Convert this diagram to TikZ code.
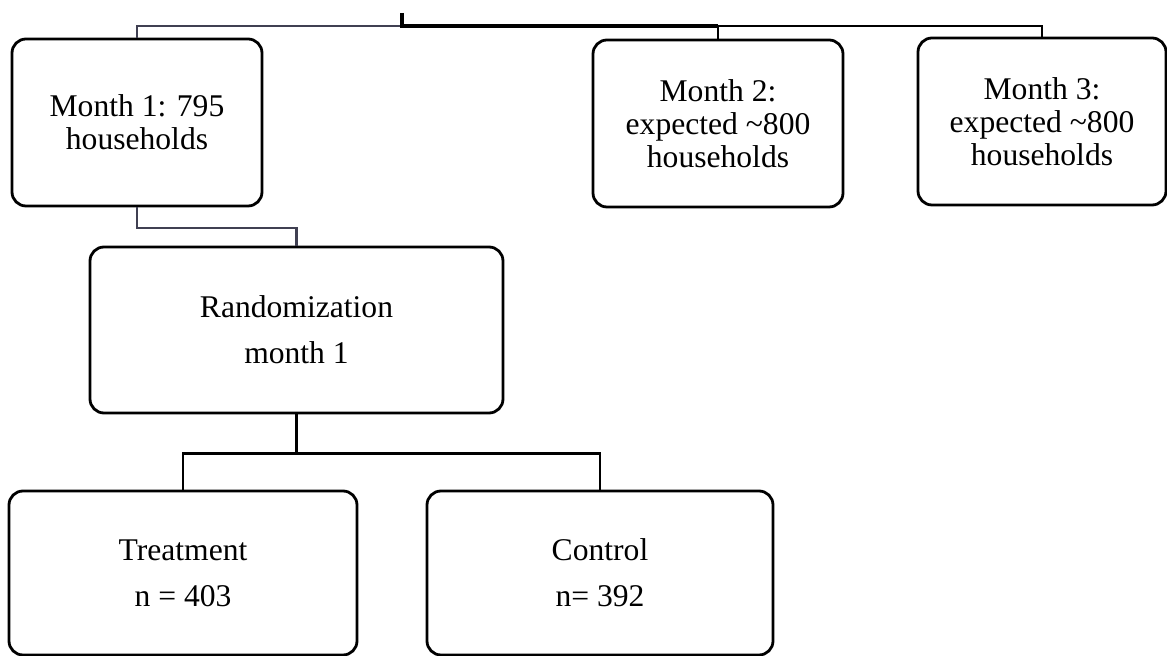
\documentclass[tikz,border=0pt]{standalone}
\usepackage{fontspec}
\setmainfont{Liberation Serif}
\definecolor{linkgray}{RGB}{64,64,82}

\begin{document}
\begin{tikzpicture}[
    x=0.5pt, y=-0.5pt,
    every node/.style={font=\fontsize{15.8}{16.5}\selectfont},
    box/.style={
        draw,
        line width=1.4pt,
        rounded corners=7pt,
        align=center,
        inner sep=0pt,
        minimum width=125pt,
        minimum height=83.5pt
    },
    link/.style={line width=1.2pt},
    graylink/.style={line width=1.1pt, draw=linkgray},
    mainlink/.style={line width=1.7pt}
]
    \useasboundingbox (0,0) rectangle (1167,656);

    % Months
    \node[box] (month1) at (137,122.5) {Month 1: 795\\households};
    \node[box] (month2) at (718,123.5) {Month 2:\\expected \textasciitilde800\\households};
    \node[box, minimum width=124pt] (month3) at (1042,121.5) {Month 3:\\expected \textasciitilde800\\households};

    % Randomization
    \node[
        box,
        minimum width=206.5pt,
        minimum height=83pt
    ] (rand) at (296.5,330) {Randomization\\[6.5pt]month 1};

    % Arms
    \node[
        box,
        minimum width=174pt,
        minimum height=82pt
    ] (treat) at (183,573) {Treatment\\[6.5pt]n = 403};

    \node[
        box,
        minimum width=173pt,
        minimum height=82pt
    ] (control) at (600,573) {Control\\[6.5pt]n= 392};

    % Top bar
    \coordinate (root) at (402,13);
    \coordinate (bar) at (402,26);

    \draw[graylink] (bar) -| (month1.north);
    \draw[link] (bar) -| (month2.north);
    \draw[link] (month2.north |- bar) -| (month3.north);
    \draw[mainlink] (root) -- (bar) -- (month2.north |- bar);

    % Month 1 to randomization
    \draw[graylink] (month1.south) -- ++(0,21) -| (rand.north);

    % Randomization to arms
    \draw[link] (rand.south) -- ++(0,39) coordinate (split) -| (treat.north);
    \draw[link] (split) -| (control.north);

\end{tikzpicture}
\end{document}
